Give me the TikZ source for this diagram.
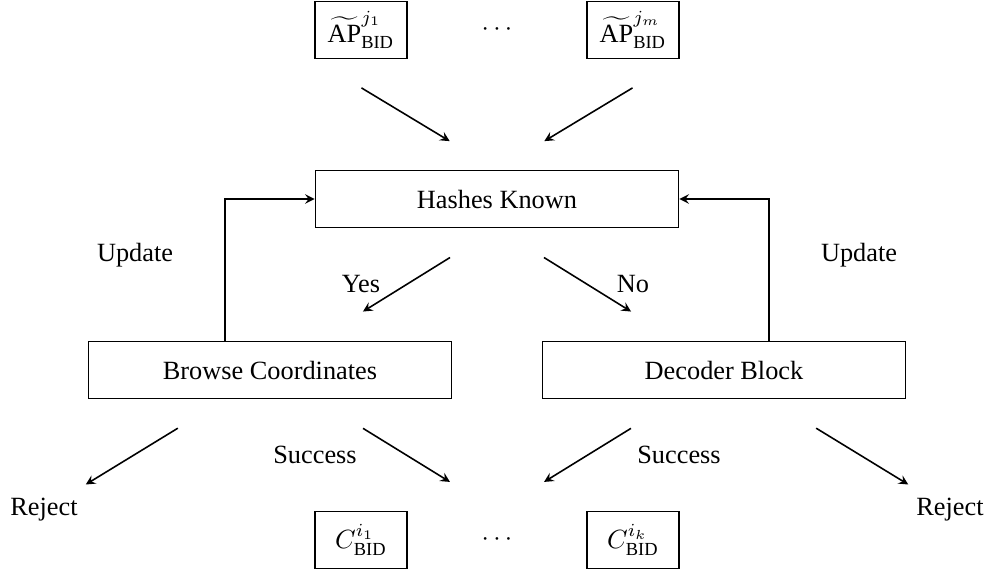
\documentclass[tikz,border=0pt]{standalone}
\usepackage{fontspec}
\setmainfont{Liberation Serif}
\usetikzlibrary{arrows}

\begin{document}
\begin{tikzpicture}[x=0.38pt, y=-0.38pt, >=stealth,
    block/.style={rectangle, draw, semithick, minimum width=138pt, minimum height=21.7pt},
    cell/.style={rectangle, draw, semithick, minimum width=35pt, minimum height=21.7pt},
    flow/.style={->, semithick, shorten <=21pt, shorten >=21pt}]
    \useasboundingbox (0,0) rectangle (989,576);
    % inputs
    \node[cell] (ap1) at (361,30) {$\widetilde{\mathrm{AP}}^{j_1}_{\mathrm{BID}}$};
    \node[minimum height=21.7pt] (topdots) at (497,30) {$\cdots$};
    \node[cell] (apm) at (633,30) {$\widetilde{\mathrm{AP}}^{j_m}_{\mathrm{BID}}$};
    % main blocks
    \node[block] (hash) at (497,199) {Hashes Known};
    \node[block] (browse) at (270,370) {Browse Coordinates};
    \node[block] (decoder) at (724,370) {Decoder Block};
    % outputs
    \node[cell] (c1) at (361,540) {$C^{i_1}_{\mathrm{BID}}$};
    \node[minimum height=21.7pt] (botdots) at (497,540) {$\cdots$};
    \node[cell] (ck) at (633,540) {$C^{i_k}_{\mathrm{BID}}$};
    \node (rejl) at (44,510) {Reject};
    \node (rejr) at (950,510) {Reject};
    % labels
    \node (yes) at (361,284) {Yes};
    \node (no) at (633,284) {No};
    \node (updl) at (135,255) {Update};
    \node (updr) at (859,255) {Update};
    \node (succl) at (315,455) {Success};
    \node (succr) at (679,455) {Success};
    \coordinate (lup) at (225,370);
    \coordinate (rup) at (769,370);
    \coordinate (yesend) at (316,370);
    \coordinate (noend) at (678,370);
    % arrows
    \draw[flow] (ap1.south west) -- (hash.north);
    \draw[flow] (apm.south east) -- (hash.north);
    \draw[flow] (hash.south) -- (browse.north -| yesend);
    \draw[flow] (hash.south) -- (decoder.north -| noend);
    \draw[->, semithick] (browse.north -| lup) |- (hash.west);
    \draw[->, semithick] (decoder.north -| rup) |- (hash.east);
    \draw[flow, shorten >=18.6pt] (browse.south -| lup) -- (rejl.center);
    \draw[flow] (browse.south -| yesend) -- (botdots.north);
    \draw[flow] (decoder.south -| noend) -- (botdots.north);
    \draw[flow, shorten >=18.6pt] (decoder.south -| rup) -- (rejr.center);
\end{tikzpicture}
\end{document}
